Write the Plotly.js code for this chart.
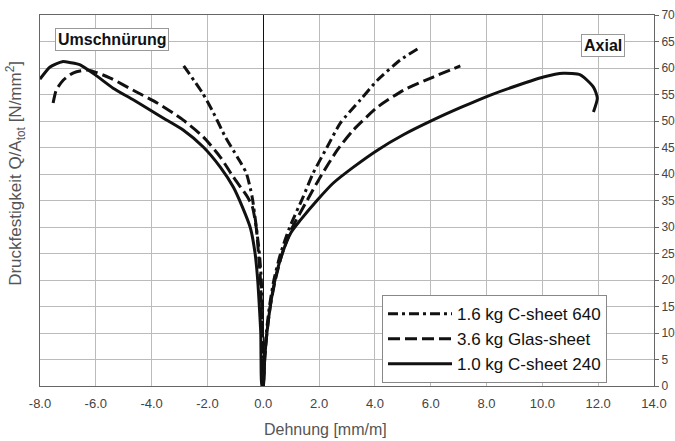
<!DOCTYPE html>
<html>
<head>
<meta charset="utf-8">
<script src="https://cdn.plot.ly/plotly-3.0.1.min.js"></script>
<style>html,body{margin:0;padding:0;background:#fff;}#chart{width:675px;height:441px;}</style>
</head>
<body>
<div id="chart"></div>
<script>
// Series names
const seriesNames = ['1.6 kg C-sheet 640', '3.6 kg Glas-sheet', '1.0 kg C-sheet 240'];

// 1.6 kg C-sheet 640 (dash-dot): strain [mm/m], stress [N/mm²]
const cSheet640X = [-2.85, -2.18, -1.78, -1.36, -0.93, -0.61, -0.40, -0.25, -0.14, -0.07, -0.05, -0.04, -0.03, 0.0,
                    0.04, 0.11, 0.22, 0.38, 0.62, 0.95, 1.43, 1.79, 2.29, 2.76, 3.48, 4.09, 4.91, 5.59];
const cSheet640Y = [60.4, 55.3, 51.5, 47.0, 43.2, 40.2, 35.7, 30.0, 25.0, 20.0, 15.0, 10.0, 5.0, 0.0,
                    5.0, 10.0, 15.0, 20.0, 25.0, 30.0, 35.7, 40.2, 45.1, 49.6, 54.0, 57.7, 61.5, 63.8];

// 3.6 kg Glas-sheet (dashed)
const glasX = [-7.53, -7.42, -7.17, -6.80, -6.27, -5.48, -4.66, -3.80, -2.90, -2.15, -1.54, -1.07, -0.57, -0.39, -0.25, -0.17, -0.10, -0.07, -0.05, -0.04, 0.0,
               0.05, 0.13, 0.25, 0.43, 0.68, 1.03, 1.58, 2.04, 2.65, 3.23, 4.09, 5.02, 6.09, 7.06];
const glasY = [53.4, 55.8, 57.7, 59.1, 59.6, 58.1, 55.8, 53.4, 50.3, 47.0, 43.2, 39.4, 35.7, 33.8, 29.8, 24.9, 20.0, 15.0, 10.0, 5.0, 0.0,
               5.0, 10.0, 15.0, 20.0, 25.0, 29.8, 35.1, 39.4, 44.5, 48.3, 52.6, 55.8, 58.3, 60.4];

// 1.0 kg C-sheet 240 (solid)
const cSheet240X = [-8.0, -7.64, -7.20, -6.90, -6.56, -6.02, -5.38, -4.66, -3.94, -3.50, -2.87, -2.15, -1.54, -1.07, -0.75, -0.46, -0.29, -0.20, -0.14, -0.09, -0.08, -0.05,
                    0.0, 0.05, 0.13, 0.25, 0.42, 0.68, 1.00, 1.33, 1.94, 2.51, 3.23, 4.09, 5.02, 6.09, 7.10, 8.14, 9.10, 10.04, 10.75, 11.36, 11.83, 11.97, 11.83];
const cSheet240Y = [57.9, 60.2, 61.2, 61.0, 60.6, 58.7, 56.2, 54.0, 51.7, 50.3, 48.3, 45.1, 41.3, 37.5, 33.8, 29.8, 24.9, 20.0, 14.9, 10.0, 4.9, 0.0,
                    0.0, 5.0, 10.0, 15.0, 20.0, 25.0, 29.0, 31.3, 35.1, 38.3, 41.3, 44.5, 47.4, 50.2, 52.6, 54.9, 56.7, 58.3, 59.0, 58.7, 56.4, 54.3, 51.7];

// Tick labels
const xTickVals = [-8, -6, -4, -2, 0, 2, 4, 6, 8, 10, 12, 14];
const xTickText = ['-8.0', '-6.0', '-4.0', '-2.0', '0.0', '2.0', '4.0', '6.0', '8.0', '10.0', '12.0', '14.0'];
const yTickVals = [0, 5, 10, 15, 20, 25, 30, 35, 40, 45, 50, 55, 60, 65, 70];

const FONT = 'Liberation Sans, Arial, sans-serif';

const traces = [
  {x: cSheet640X, y: cSheet640Y, name: seriesNames[0], mode: 'lines',
   line: {color: '#111', width: 3, dash: '10px,4px,3px,4px', shape: 'spline', smoothing: 0.6}},
  {x: glasX, y: glasY, name: seriesNames[1], mode: 'lines',
   line: {color: '#111', width: 3, dash: '12px,5px', shape: 'spline', smoothing: 0.6}},
  {x: cSheet240X, y: cSheet240Y, name: seriesNames[2], mode: 'lines',
   line: {color: '#111', width: 3, shape: 'spline', smoothing: 0.6}}
];

const layout = {
  width: 675, height: 441,
  margin: {l: 40, r: 21, t: 15, b: 55},
  paper_bgcolor: '#fff', plot_bgcolor: '#fff',
  font: {family: FONT, color: '#444'},
  showlegend: true,
  legend: {
    x: 0.557, xanchor: 'left', y: 0.245, yanchor: 'top',
    bgcolor: '#fff', bordercolor: '#888', borderwidth: 1,
    font: {family: FONT, size: 17, color: '#111'},
    itemwidth: 64, tracegroupgap: 0
  },
  xaxis: {
    range: [-8, 14], tickvals: xTickVals, ticktext: xTickText,
    showgrid: true, gridcolor: '#bbb', gridwidth: 1,
    zeroline: true, zerolinecolor: '#111', zerolinewidth: 1.5,
    showline: true, linecolor: '#666', linewidth: 1, mirror: true,
    ticks: '', ticklabelstandoff: 5, tickfont: {family: FONT, size: 13, color: '#444'}
  },
  yaxis: {
    range: [0, 70], tickvals: yTickVals, side: 'right',
    showgrid: true, gridcolor: '#bbb', gridwidth: 1,
    zeroline: false,
    showline: true, linecolor: '#666', linewidth: 1, mirror: true,
    ticks: 'outside', ticklen: 4, tickcolor: '#666',
    tickfont: {family: FONT, size: 12, color: '#444'}
  },
  annotations: [
    {text: 'Umschnürung', xref: 'x', yref: 'y', x: -5.43, y: 65.3, showarrow: false,
     font: {family: FONT, size: 16, color: '#111', weight: 'bold'},
     bgcolor: '#fff', bordercolor: '#999', borderwidth: 1, borderpad: 2},
    {text: 'Axial', xref: 'x', yref: 'y', x: 12.19, y: 64.2, showarrow: false,
     font: {family: FONT, size: 16, color: '#111', weight: 'bold'},
     bgcolor: '#fff', bordercolor: '#999', borderwidth: 1, borderpad: 2},
    {text: 'Dehnung [mm/m]', xref: 'paper', yref: 'paper', x: (325 - 40) / 614, y: -0.118,
     xanchor: 'center', yanchor: 'middle', showarrow: false,
     font: {family: FONT, size: 16, color: '#555'}},
    {text: 'Druckfestigkeit Q/A<sub>tot</sub> [N/mm<sup>2</sup>]', xref: 'paper', yref: 'paper',
     x: -0.041, y: (386 - 173) / 371, xanchor: 'center', yanchor: 'middle', textangle: -90, showarrow: false,
     font: {family: FONT, size: 17, color: '#555'}}
  ]
};

Plotly.newPlot('chart', traces, layout, {staticPlot: true, displayModeBar: false});
</script>
</body>
</html>
